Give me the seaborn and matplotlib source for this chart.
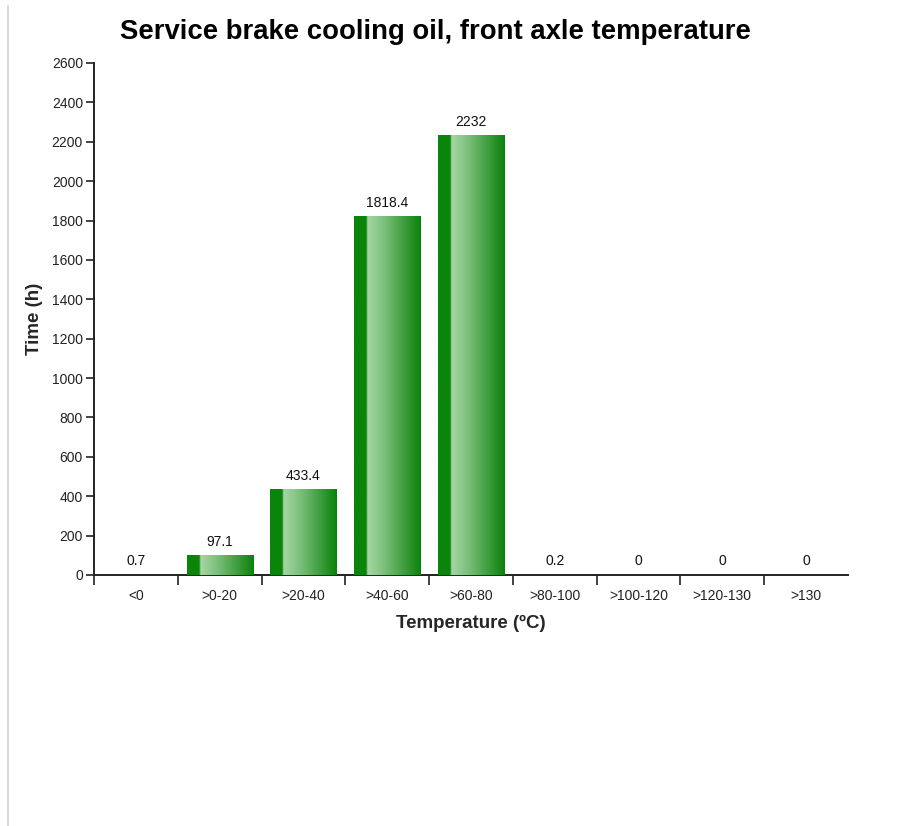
import numpy as np
import matplotlib
matplotlib.use("Agg")
import matplotlib.pyplot as plt
from matplotlib.colors import LinearSegmentedColormap
from matplotlib.lines import Line2D
import seaborn as sns
import pandas as pd

categories = ["<0", ">0-20", ">20-40", ">40-60", ">60-80", ">80-100", ">100-120", ">120-130", ">130"]
hours = [0.7, 97.1, 433.4, 1818.4, 2232, 0.2, 0, 0, 0]
value_labels = ["0.7", "97.1", "433.4", "1818.4", "2232", "0.2", "0", "0", "0"]
y_ticks = list(range(0, 2601, 200))

sns.set_theme(style="white")
plt.rcParams["font.family"] = ["Liberation Sans", "DejaVu Sans"]

fig = plt.figure(figsize=(9.10, 8.26), dpi=100)
ax = fig.add_axes([94 / 910, 1 - 575 / 826, 754 / 910, 512 / 826])

df = pd.DataFrame({"Temperature": categories, "Time": hours})
sns.barplot(data=df, x="Temperature", y="Time", color="#0b840b", width=0.79,
            saturation=1, ax=ax, zorder=2)

# horizontal green gradient on each bar: dark strip, bright highlight, fading back to green
grad_cmap = LinearSegmentedColormap.from_list(
    "bar_shine",
    [(0.0, "#0a850a"), (0.185, "#0a850a"), (0.2, "#a6d6a6"),
     (0.45, "#7cc07c"), (0.85, "#2a922a"), (1.0, "#0a820a")])
gradient = np.linspace(0, 1, 256).reshape(1, -1)
px_per_unit = 512 / 2600
for patch, val, lab in zip(ax.patches, hours, value_labels):
    x0, w, h = patch.get_x(), patch.get_width(), patch.get_height()
    patch.set_alpha(0)
    patch.set_linewidth(0)
    if h * px_per_unit >= 1:
        ax.imshow(gradient, cmap=grad_cmap, aspect="auto",
                  extent=[x0, x0 + w, 0, h], zorder=3, interpolation="bicubic")
    ax.annotate(lab, (x0 + w / 2, h), xytext=(0, 10), textcoords="offset points",
                ha="center", va="center", fontsize=10, color="#111111")

ax.set_xlim(-0.5, len(categories) - 0.5)
ax.set_ylim(0, 2600)
ax.set_yticks(y_ticks)
ax.set_yticklabels([str(t) for t in y_ticks])
ax.set_xticks(range(len(categories)))
ax.set_xticklabels(categories)
ax.set_xticks(np.arange(-0.5, len(categories) - 1, 1.0), minor=True)

ax.tick_params(axis="y", which="major", left=True, length=6, width=1.2,
               color="#222222", labelsize=10, labelcolor="#222222", pad=2)
ax.tick_params(axis="x", which="major", bottom=False, labelsize=10,
               labelcolor="#222222", pad=4)
ax.tick_params(axis="x", which="minor", bottom=True, length=7, width=1.2,
               color="#222222")

for side in ["top", "right"]:
    ax.spines[side].set_visible(False)
for side in ["left", "bottom"]:
    ax.spines[side].set_color("#222222")
    ax.spines[side].set_linewidth(1.4)

ax.set_xlabel("Temperature (ºC)", fontsize=13.5, fontweight="bold", labelpad=9)
ax.set_ylabel("Time (h)", fontsize=13.5, fontweight="bold")
ax.yaxis.set_label_coords(-51 / 754, 0.5)
ax.grid(False)

fig.text(435 / 910, 1 - 32 / 826, "Service brake cooling oil, front axle temperature",
         ha="center", va="center", fontsize=19.8, fontweight="bold", color="#000000")

fig.add_artist(Line2D([8 / 910, 8 / 910], [0, 1 - 6 / 826], color="#d0d0d0", linewidth=1.2))

fig.savefig("out.png", dpi=100)
